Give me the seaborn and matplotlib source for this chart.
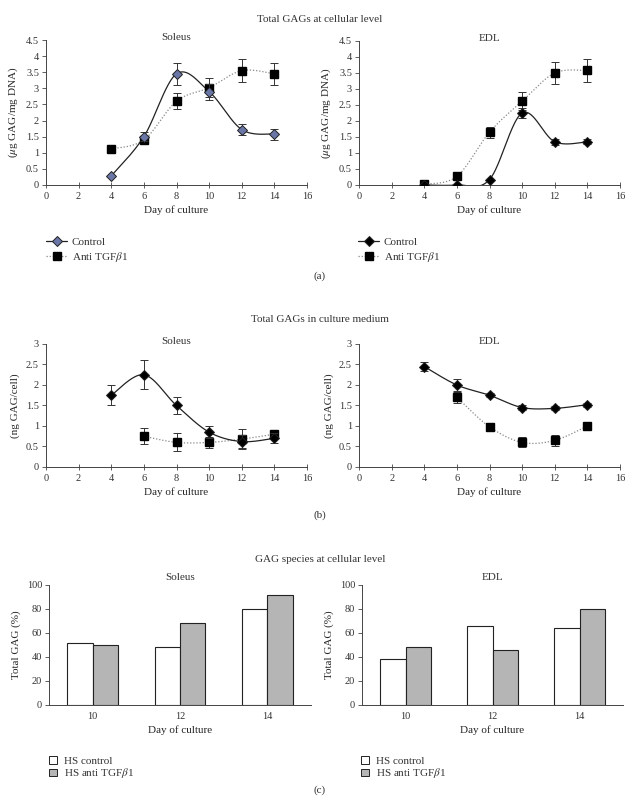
import numpy as np
import pandas as pd
import matplotlib
matplotlib.use("Agg")
import matplotlib.pyplot as plt
import seaborn as sns
from matplotlib.lines import Line2D
from matplotlib.patches import Patch

# ---------------- data ----------------
days = [4, 6, 8, 10, 12, 14]
days_b_anti = [6, 8, 10, 12, 14]

# (a) total GAGs at cellular level (µg GAG/mg DNA)
a_sol_ctrl = [0.28, 1.50, 3.45, 2.90, 1.72, 1.58]
a_sol_ctrl_err = [0.0, 0.13, 0.35, 0.25, 0.17, 0.17]
a_sol_anti = [1.12, 1.40, 2.60, 3.02, 3.55, 3.45]
a_sol_anti_err = [0.0, 0.10, 0.25, 0.30, 0.35, 0.35]
a_edl_ctrl = [0.00, 0.00, 0.17, 2.25, 1.35, 1.35]
a_edl_ctrl_err = [0.0, 0.0, 0.0, 0.15, 0.10, 0.08]
a_edl_anti = [0.02, 0.27, 1.65, 2.62, 3.50, 3.58]
a_edl_anti_err = [0.0, 0.0, 0.17, 0.28, 0.35, 0.35]

# (b) total GAGs in culture medium (ng GAG/cell)
b_sol_ctrl = [1.75, 2.25, 1.50, 0.85, 0.62, 0.70]
b_sol_ctrl_err = [0.25, 0.35, 0.20, 0.14, 0.15, 0.12]
b_sol_anti = [0.75, 0.60, 0.60, 0.68, 0.80]
b_sol_anti_err = [0.20, 0.22, 0.13, 0.25, 0.05]
b_edl_ctrl = [2.45, 2.00, 1.75, 1.45, 1.43, 1.52]
b_edl_ctrl_err = [0.12, 0.15, 0.05, 0.07, 0.05, 0.05]
b_edl_anti = [1.70, 0.98, 0.60, 0.65, 1.00]
b_edl_anti_err = [0.13, 0.10, 0.12, 0.13, 0.03]

# (c) GAG species at cellular level (%)
c_days = ["10", "12", "14"]
c_sol_ctrl = [52, 48, 80]
c_sol_anti = [50, 68, 92]
c_edl_ctrl = [38, 66, 64]
c_edl_anti = [48, 46, 80]

# ---------------- style ----------------
sns.set_style("white")
plt.rcParams["font.family"] = ["Liberation Serif", "DejaVu Serif"]
plt.rcParams["mathtext.fontset"] = "stix"
FS = 7.5
TXT = "#333333"
plt.rcParams["text.color"] = TXT


def smooth(x, y, n=40):
    """Excel-style smoothed line (Catmull-Rom Bezier) through the data points."""
    P = np.column_stack([np.asarray(x, float), np.asarray(y, float)])
    Pe = np.vstack([P[0], P, P[-1]])
    t = np.linspace(0, 1, n)[:, None]
    segs = []
    for i in range(len(P) - 1):
        p0, p1, p2, p3 = Pe[i], Pe[i + 1], Pe[i + 2], Pe[i + 3]
        c1 = p1 + (p2 - p0) / 6
        c2 = p2 - (p3 - p1) / 6
        seg = (1 - t) ** 3 * p1 + 3 * (1 - t) ** 2 * t * c1 + 3 * (1 - t) * t ** 2 * c2 + t ** 3 * p2
        segs.append(seg if i == 0 else seg[1:])
    return np.vstack(segs)


def style_axes(ax):
    for s in ["top", "right"]:
        ax.spines[s].set_visible(False)
    for s in ["left", "bottom"]:
        ax.spines[s].set_linewidth(0.7)
        ax.spines[s].set_color("#444444")
    ax.tick_params(axis="y", direction="out", length=3, width=0.6, labelsize=FS,
                   colors="#444444", labelcolor=TXT, pad=2, left=True)
    ax.tick_params(axis="x", direction="inout", length=4, width=0.6, labelsize=FS,
                   colors="#444444", labelcolor=TXT, pad=3, bottom=True)


def line_panel(ax, xc, yc, ec, xa, ya, ea, ymax, ystep, ylabel, sub, ctrl_face):
    sc = smooth(xc, yc)
    sa = smooth(xa, ya)
    sns.lineplot(x=sa[:, 0], y=sa[:, 1], ax=ax, sort=False, estimator=None,
                 color="#888888", lw=0.9, linestyle=(0, (1, 1.5)))
    sns.lineplot(x=sc[:, 0], y=sc[:, 1], ax=ax, sort=False, estimator=None,
                 color="#222222", lw=0.9)
    ax.errorbar(xa, ya, yerr=ea, fmt="s", ms=5.6, mfc="black", mec="black",
                ecolor="#333333", elinewidth=0.7, capsize=3, capthick=0.7, zorder=4)
    ax.errorbar(xc, yc, yerr=ec, fmt="D", ms=5.2, mfc=ctrl_face, mec="#222222", mew=0.7,
                ecolor="#333333", elinewidth=0.7, capsize=3, capthick=0.7, zorder=5)
    ax.set_xlim(0, 16)
    ax.set_xticks(np.arange(0, 17, 2))
    ax.set_ylim(0, ymax)
    yt = np.arange(0, ymax + 1e-9, ystep)
    ax.set_yticks(yt)
    ax.set_yticklabels([("%g" % v) for v in yt])
    ax.set_xlabel("Day of culture", fontsize=FS + 0.5, labelpad=3)
    ax.set_ylabel(ylabel, fontsize=FS + 0.5, labelpad=4)
    ax.text(0.5, 1.02, sub, transform=ax.transAxes, ha="center", va="center", fontsize=FS + 0.5)
    style_axes(ax)


fig = plt.figure(figsize=(6.41, 8.08), dpi=100)
W, H = 641.0, 808.0


def add_ax(x0, x1, ytop, ybot):
    return fig.add_axes([x0 / W, 1 - ybot / H, (x1 - x0) / W, (ybot - ytop) / H])


ylab_a = r"($\mu$g GAG/mg DNA)"
ylab_b = "(ng GAG/cell)"
anti_lab = r"Anti TGF$\beta$1"

# ---------------- panel (a) ----------------
ax1 = add_ax(46, 307, 40, 185)
line_panel(ax1, days, a_sol_ctrl, a_sol_ctrl_err, days, a_sol_anti, a_sol_anti_err,
           4.5, 0.5, ylab_a, "Soleus", "#6a76a6")
ax2 = add_ax(359, 620, 41, 185)
line_panel(ax2, days, a_edl_ctrl, a_edl_ctrl_err, days, a_edl_anti, a_edl_anti_err,
           4.5, 0.5, ylab_a, "EDL", "black")


def line_legend(x_px, y_px, face):
    h = [Line2D([], [], color="#222222", lw=0.9, marker="D", ms=5, mfc=face, mec="#222222", mew=0.7),
         Line2D([], [], color="#888888", lw=0.9, linestyle=(0, (1, 1.5)), marker="s", ms=5.4,
                mfc="black", mec="black")]
    fig.legend(h, ["Control", anti_lab], loc="upper left",
               bbox_to_anchor=(x_px / W, 1 - y_px / H), frameon=False, fontsize=FS + 0.5,
               handlelength=1.9, handletextpad=0.4, labelspacing=0.25, borderpad=0, borderaxespad=0)


line_legend(46, 237, "#6a76a6")
line_legend(358, 237, "black")

fig.text(320 / W, 1 - 19 / H, "Total GAGs at cellular level", ha="center", va="center", fontsize=FS + 0.5)
fig.text(320 / W, 1 - 276 / H, "(a)", ha="center", va="center", fontsize=FS + 0.5)

# ---------------- panel (b) ----------------
ax3 = add_ax(46, 307, 344, 467)
line_panel(ax3, days, b_sol_ctrl, b_sol_ctrl_err, days_b_anti, b_sol_anti, b_sol_anti_err,
           3, 0.5, ylab_b, "Soleus", "black")
ax4 = add_ax(359, 620, 344, 467)
line_panel(ax4, days, b_edl_ctrl, b_edl_ctrl_err, days_b_anti, b_edl_anti, b_edl_anti_err,
           3, 0.5, ylab_b, "EDL", "black")
fig.text(320 / W, 1 - 319 / H, "Total GAGs in culture medium", ha="center", va="center", fontsize=FS + 0.5)
fig.text(320 / W, 1 - 515 / H, "(b)", ha="center", va="center", fontsize=FS + 0.5)

# ---------------- panel (c) ----------------
def bar_panel(ax, ctrl, anti, sub):
    df = pd.DataFrame({
        "day": c_days * 2,
        "group": ["HS control"] * 3 + ["HS anti TGFb1"] * 3,
        "value": list(ctrl) + list(anti),
    })
    sns.barplot(data=df, x="day", y="value", hue="group", ax=ax,
                palette=["white", "#b5b5b5"], edgecolor="#222222", linewidth=0.8,
                width=0.58, legend=False, errorbar=None)
    ax.set_xlim(-0.5, 2.5)
    ax.set_ylim(0, 100)
    ax.set_yticks(np.arange(0, 101, 20))
    ax.set_xticks([0, 1, 2])
    ax.set_xticklabels(c_days)
    ax.set_xticks([-0.5, 0.5, 1.5, 2.5], minor=True)
    ax.set_xlabel("Day of culture", fontsize=FS + 0.5, labelpad=3)
    ax.set_ylabel("Total GAG (%)", fontsize=FS + 0.5, labelpad=4)
    ax.text(0.5, 1.06, sub, transform=ax.transAxes, ha="center", va="center", fontsize=FS + 0.5)
    style_axes(ax)
    ax.tick_params(axis="x", which="major", length=0, pad=5)
    ax.tick_params(axis="x", which="minor", direction="inout", length=4, width=0.6, colors="#444444")


ax5 = add_ax(49, 311, 585, 705)
bar_panel(ax5, c_sol_ctrl, c_sol_anti, "Soleus")
ax6 = add_ax(362, 623, 585, 705)
bar_panel(ax6, c_edl_ctrl, c_edl_anti, "EDL")


def bar_legend(x_px, y_px):
    h = [Patch(facecolor="white", edgecolor="#222222", lw=0.7),
         Patch(facecolor="#b5b5b5", edgecolor="#222222", lw=0.7)]
    fig.legend(h, ["HS control", r"HS anti TGF$\beta$1"], loc="upper left",
               bbox_to_anchor=(x_px / W, 1 - y_px / H), frameon=False, fontsize=FS + 0.5,
               handlelength=0.75, handleheight=0.7, handletextpad=0.6, labelspacing=0.05,
               borderpad=0, borderaxespad=0)


bar_legend(49, 756)
bar_legend(361, 756)
fig.text(320 / W, 1 - 559 / H, "GAG species at cellular level", ha="center", va="center", fontsize=FS + 0.5)
fig.text(320 / W, 1 - 790 / H, "(c)", ha="center", va="center", fontsize=FS + 0.5)

fig.savefig("out.png", dpi=100, facecolor="white")
